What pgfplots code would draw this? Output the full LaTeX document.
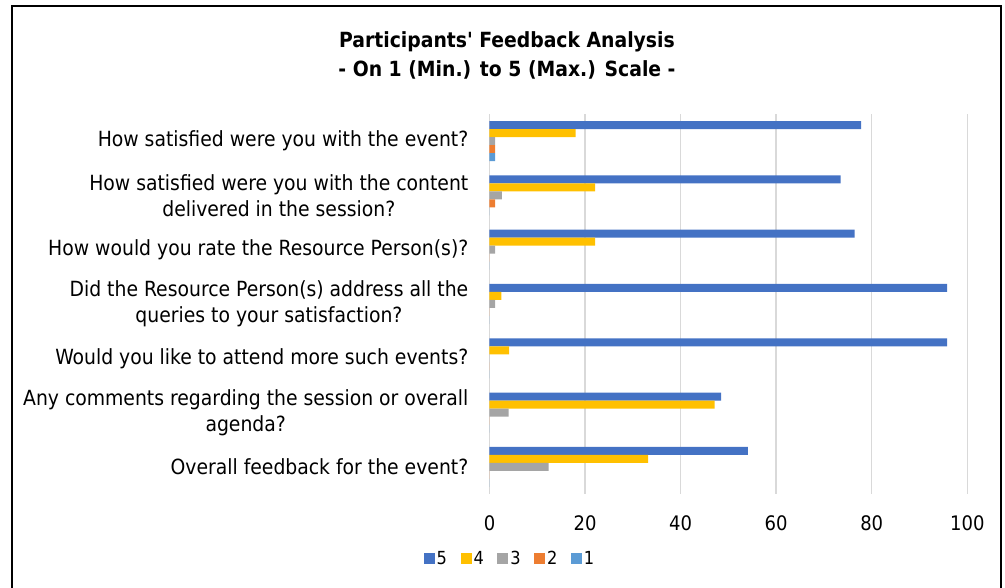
\documentclass[border=0pt]{standalone}
\usepackage{pgfplots}
\pgfplotsset{compat=1.18}
\usepackage{fontspec}
\setmainfont{DejaVu Sans Condensed}
\definecolor{cfive}{HTML}{4472C4}
\definecolor{cfour}{HTML}{FFC000}
\definecolor{cthree}{HTML}{A5A5A5}
\definecolor{ctwo}{HTML}{ED7D31}
\definecolor{cone}{HTML}{5B9BD5}
\definecolor{gridgray}{HTML}{D9D9D9}
\begin{document}
\begin{tikzpicture}[x=1pt,y=1pt]
\path[use as bounding box] (0,0) rectangle (1005,588);
\begin{scope}
\clip (0,0) rectangle (1005,588);
\draw[line width=2.5pt] (12,-20) -- (12,582) -- (1001,582) -- (1001,-20);
\end{scope}
\node[font=\bfseries\fontsize{20.9}{29}\selectfont, align=center] at (507,532.5) {Participants\textquotesingle{} Feedback Analysis\\- On 1 (Min.) to 5 (Max.) Scale -};
\begin{axis}[
  at={(489.5pt,94pt)}, anchor=south west, scale only axis,
  width=477.8pt, height=380pt,
  xbar, bar width=8pt,
  xmin=0, xmax=100, ymin=-0.5, ymax=6.5,
  xtick={0,20,...,100}, ytick={0,...,6},
  yticklabels={{Overall feedback for the event?},
    {Any comments regarding the session or overall\\agenda?},
    {Would you like to attend more such events?},
    {Did the Resource Person(s) address all the\\queries to your satisfaction?},
    {How would you rate the Resource Person(s)?},
    {How satisfied were you with the content\\delivered in the session?},
    {How satisfied were you with the event?}},
  axis line style={draw=none}, major tick length=0pt,
  xmajorgrids, grid style={color=gridgray, line width=1.5pt},
  /pgf/number format/assume math mode=true,
  xticklabel style={font=\fontsize{20}{26}\selectfont, anchor=north, inner sep=0pt, yshift=-21pt},
  yticklabel style={font=\fontsize{20.9}{26}\selectfont, align=center, anchor=east, inner sep=0pt, xshift=-21pt},
  legend style={at={(axis description cs:0.0429,-0.171)}, anchor=center, draw=none,
    font=\fontsize{18}{20}\selectfont,
    /tikz/every even column/.append style={column sep=11.5pt}},
  legend columns=-1,
]
\addplot[fill=cfive, draw=none, bar shift=16pt,
  legend image code/.code={\fill[cfive] (0pt,-5.5pt) rectangle (11pt,5.5pt);}]
  coordinates {(54.1,0) (48.5,1) (95.8,2) (95.8,3) (76.4,4) (73.5,5) (77.8,6)};
\addlegendentry{5}
\addplot[fill=cfour, draw=none, bar shift=8pt,
  legend image code/.code={\fill[cfour] (0pt,-5.5pt) rectangle (11pt,5.5pt);}]
  coordinates {(33.2,0) (47.1,1) (4.1,2) (2.5,3) (22.1,4) (22.1,5) (18.0,6)};
\addlegendentry{4}
\addplot[fill=cthree, draw=none, bar shift=0pt,
  legend image code/.code={\fill[cthree] (0pt,-5.5pt) rectangle (11pt,5.5pt);}]
  coordinates {(12.4,0) (4.0,1) (0,2) (1.2,3) (1.2,4) (2.6,5) (1.2,6)};
\addlegendentry{3}
\addplot[fill=ctwo, draw=none, bar shift=-8pt,
  legend image code/.code={\fill[ctwo] (0pt,-5.5pt) rectangle (11pt,5.5pt);}]
  coordinates {(0,0) (0,1) (0,2) (0,3) (0,4) (1.2,5) (1.2,6)};
\addlegendentry{2}
\addplot[fill=cone, draw=none, bar shift=-16pt,
  legend image code/.code={\fill[cone] (0pt,-5.5pt) rectangle (11pt,5.5pt);}]
  coordinates {(0,0) (0,1) (0,2) (0,3) (0,4) (0,5) (1.2,6)};
\addlegendentry{1}
\end{axis}
\end{tikzpicture}
\end{document}
